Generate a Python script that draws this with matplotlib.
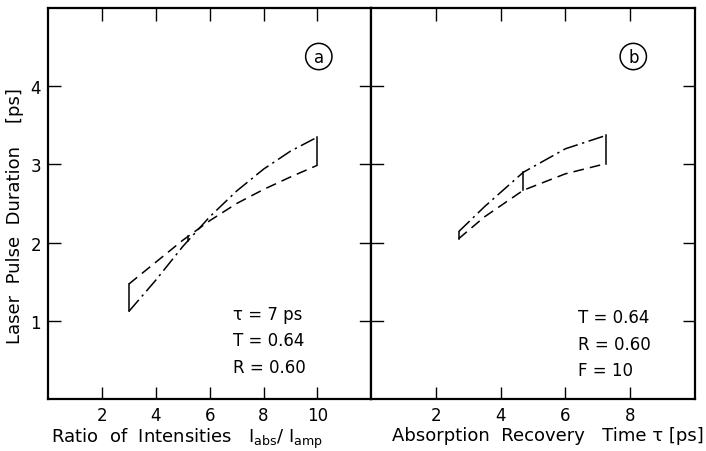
import matplotlib
matplotlib.use('Agg')
import matplotlib.pyplot as plt
import numpy as np

# panel a: pulse duration vs. intensity ratio
ratio = [3, 4, 5, 6, 7, 8, 9, 10]
dur_a_dashdot = [1.12, 1.52, 1.95, 2.33, 2.66, 2.94, 3.17, 3.35]
dur_a_dashed = [1.47, 1.75, 2.03, 2.28, 2.50, 2.68, 2.84, 2.99]
mark_a_x = 5.2

# panel b: pulse duration vs. absorption recovery time
tau = [2.7, 3.5, 4.7, 6.0, 7.25]
dur_b_dashdot = [2.14, 2.46, 2.90, 3.20, 3.37]
dur_b_dashed = [2.05, 2.33, 2.67, 2.88, 3.01]
mark_b_x = 4.7

text_a = ['\u03c4 = 7 ps', 'T = 0.64', 'R = 0.60']
text_b = ['T = 0.64', 'R = 0.60', 'F = 10']

plt.rcParams['font.family'] = ['DejaVu Sans']
fig = plt.figure(figsize=(7.06, 4.52), dpi=100)
ax1 = fig.add_axes([0.068, 0.115, 0.458, 0.865])
ax2 = fig.add_axes([0.526, 0.115, 0.458, 0.865])

dd = (0, (10, 3, 1.5, 3))
ds = (0, (7, 4))
lw = 1.1


def vert(ax, xs, ys1, ys2, x):
    # solid vertical connector between the two curves at x
    y1 = np.interp(x, xs, ys1)
    y2 = np.interp(x, xs, ys2)
    ax.plot([x, x], [y1, y2], color='k', lw=lw)


ax1.plot(ratio, dur_a_dashdot, color='k', lw=lw, linestyle=dd)
ax1.plot(ratio, dur_a_dashed, color='k', lw=lw, linestyle=ds)
vert(ax1, ratio, dur_a_dashdot, dur_a_dashed, ratio[0])
vert(ax1, ratio, dur_a_dashdot, dur_a_dashed, ratio[-1])
vert(ax1, ratio, dur_a_dashdot, dur_a_dashed, mark_a_x)

ax2.plot(tau, dur_b_dashdot, color='k', lw=lw, linestyle=dd)
ax2.plot(tau, dur_b_dashed, color='k', lw=lw, linestyle=ds)
vert(ax2, tau, dur_b_dashdot, dur_b_dashed, tau[0])
vert(ax2, tau, dur_b_dashdot, dur_b_dashed, tau[-1])
vert(ax2, tau, dur_b_dashdot, dur_b_dashed, mark_b_x)

ax1.set_xlim(0, 12)
ax1.set_ylim(0, 5)
ax2.set_xlim(0, 10)
ax2.set_ylim(0, 5)

ax1.set_xticks([2, 4, 6, 8, 10])
ax1.set_yticks([1, 2, 3, 4])
ax2.set_xticks([2, 4, 6, 8])
ax2.set_yticks([1, 2, 3, 4])

for ax in (ax1, ax2):
    for s in ax.spines.values():
        s.set_linewidth(1.6)
    ax.tick_params(labelsize=12, width=1.0, pad=5)

ax1.tick_params(axis='x', direction='in', length=9, top=True, bottom=True)
ax1.tick_params(axis='y', direction='in', length=9, left=True, right=False)
ax2.tick_params(axis='x', direction='in', length=9, top=True, bottom=True)
ax2.tick_params(axis='y', which='both', left=False, right=True, direction='in',
                length=9, labelleft=False)
# ticks crossing the middle divider
for y in ax2.get_yticks():
    ax2.plot([-0.35, 0.35], [y, y], color='k', lw=1.0, clip_on=False)

ax1.set_ylabel('Laser  Pulse  Duration    [ps]', fontsize=13)
ax1.yaxis.set_label_coords(-0.075, 0.47)
ax1.set_xlabel('Ratio  of  Intensities   I$_\\mathrm{abs}$/ I$_\\mathrm{amp}$',
               fontsize=13)
ax1.xaxis.set_label_coords(0.43, -0.068)
ax2.set_xlabel('Absorption  Recovery   Time \u03c4 [ps]', fontsize=13)
ax2.xaxis.set_label_coords(0.545, -0.068)

circ = dict(boxstyle='circle,pad=0.25', fc='none', ec='k', lw=1.1)
ax1.text(10.05, 4.38, 'a', fontsize=12, ha='center', va='center', bbox=circ)
ax2.text(8.1, 4.38, 'b', fontsize=12, ha='center', va='center', bbox=circ)

for i, t in enumerate(text_a):
    ax1.text(6.85, 1.09 - 0.34 * i, t, fontsize=12, ha='left', va='center')
for i, t in enumerate(text_b):
    ax2.text(6.4, 1.05 - 0.34 * i, t, fontsize=12, ha='left', va='center')

fig.savefig('out.png', dpi=100)
